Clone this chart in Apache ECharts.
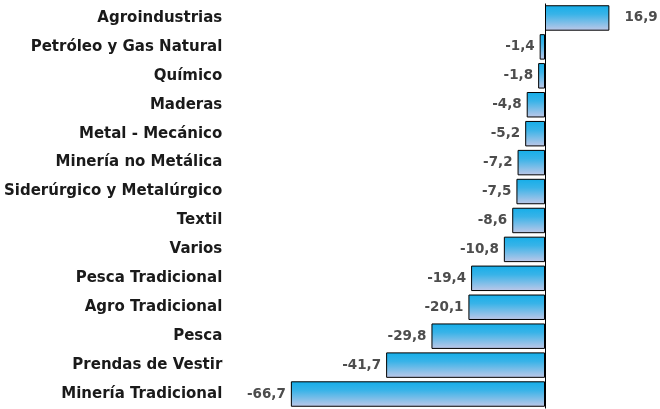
<!DOCTYPE html>
<html><head><meta charset="utf-8">
<script src="https://cdn.jsdelivr.net/npm/echarts@6/dist/echarts.min.js"></script>
<style>html,body{margin:0;padding:0;background:#fff}#c{width:660px;height:409px}</style>
</head><body><div id="c"></div>
<script>
const categories = ["Agroindustrias","Petróleo y Gas Natural","Químico","Maderas","Metal - Mecánico","Minería no Metálica","Siderúrgico y Metalúrgico","Textil","Varios","Pesca Tradicional","Agro Tradicional","Pesca","Prendas de Vestir","Minería Tradicional"];
const values = [16.9,-1.4,-1.8,-4.8,-5.2,-7.2,-7.5,-8.6,-10.8,-19.4,-20.1,-29.8,-41.7,-66.7];

const chart = echarts.init(document.getElementById('c'), null, {renderer:'canvas'});
const fmt = v => v.toFixed(1).replace('.', ',');
chart.setOption({
  animation:false,
  grid:{left:278.3, right:38.8, top:3.5, bottom:0.5, containLabel:false},
  xAxis:{type:'value', min:-70, max:20, show:false},
  yAxis:{type:'category', data:categories, inverse:true,
    axisLine:{show:false}, axisTick:{show:false},
    axisLabel:{margin:56, color:'#1a1a1a', fontFamily:'DejaVu Sans', fontWeight:'bold', fontSize:15}},
  series:[{
    type:'bar', barCategoryGap:'12%',
    data: values.map(v => ({value:v, label:{position: v>=0?'right':'left', distance: v>=0?15:5}})),
    itemStyle:{borderColor:'#000', borderWidth:1,
      color:new echarts.graphic.LinearGradient(0,0,0,1,[{offset:0,color:'#14aee9'},{offset:0.35,color:'#38b3e8'},{offset:1,color:'#c0c8e8'}])},
    label:{show:true, formatter:p=>fmt(p.value), color:'#4d4d4d', fontFamily:'DejaVu Sans', fontWeight:'bold', fontSize:13.5},
    markLine:{silent:true, symbol:'none', label:{show:false}, lineStyle:{color:'#000', type:'solid', width:1},
      data:[{xAxis:0}]}
  }]
});
</script></body></html>
